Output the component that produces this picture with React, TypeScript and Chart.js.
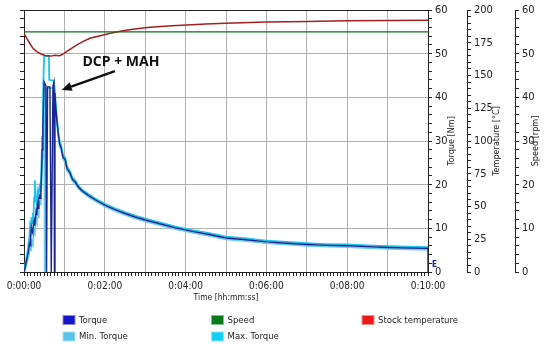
import React, { useEffect, useRef } from 'react';
import { Chart, registerables } from 'chart.js';

Chart.register(...registerables);

const FONT = '"DejaVu Sans Condensed", "DejaVu Sans", sans-serif';

// time [s], value
const torquePoints: [number, number][] = [
  [0, 0], [2, 1.2], [4, 2.8], [5, 3.5], [7, 5], [8, 6.5], [9, 6], [10, 8.5], [11, 10.2], [12, 9.4],
  [13, 9], [14, 11], [15, 11.8], [16, 10.6], [17, 12.4], [18, 14], [19, 13], [20, 15.4], [21, 14.6],
  [22, 16.8], [23, 17.4], [24, 16.9], [25, 18.3], [26, 22], [27, 28], [28, 33], [30, 43.5], [32.5, 42.6],
  [33.5, 0], [35, 42.4], [38.5, 42.4], [40.5, 0], [43, 42.6], [44.5, 43.5], [45.2, 0], [46, 41],
  [47, 38], [49, 34.5], [51, 31.5], [53, 29.2], [55, 28.6], [58, 26.2], [61, 25.8], [64, 23.6], [68, 22.8],
  [72, 21.2], [76, 20.6], [81, 19.4], [87, 18.5], [95, 17.6], [105, 16.6], [120, 15.3], [135, 14.3],
  [150, 13.4], [165, 12.6], [180, 11.9], [200, 11.1], [225, 10.1], [250, 9.3], [275, 8.6], [300, 7.8],
  [330, 7.4], [360, 6.9], [390, 6.6], [420, 6.3], [450, 6.1], [480, 6.0], [510, 5.8], [540, 5.6],
  [570, 5.5], [600, 5.4], [600, 0],
];

const maxTorquePoints: [number, number][] = [
  [0, 0], [2, 1.8], [4, 3.5], [6, 5.5], [8, 8], [9, 10.5], [10, 9.8], [11, 12.5], [12, 11.2], [13, 13.5],
  [14, 12.4], [15, 17], [16, 21], [17, 16], [18, 17.5], [19, 15.2], [20, 18], [21, 17], [22, 18.8],
  [23, 19.5], [24, 18.5], [25, 20], [26, 25], [27, 31], [28, 38], [29, 45], [30, 49.5], [37, 49.5],
  [37.5, 44], [44, 43.8], [46, 41.5], [47, 38.5], [49, 35], [51, 32], [53, 29.8], [55, 29.1], [58, 26.7],
  [61, 26.3], [64, 24.1], [68, 23.2], [72, 21.6], [76, 21], [81, 19.7], [87, 18.8], [95, 17.9], [105, 16.9],
  [120, 15.6], [135, 14.6], [150, 13.7], [165, 12.9], [180, 12.2], [200, 11.4], [225, 10.4], [250, 9.6],
  [275, 8.9], [300, 8.1], [330, 7.7], [360, 7.2], [390, 6.9], [420, 6.6], [450, 6.4], [480, 6.3], [510, 6.1],
  [540, 5.9], [570, 5.8], [600, 5.7],
];

const minTorquePoints: [number, number][] = [
  [0, 0], [2, 0.8], [4, 2], [6, 3.2], [8, 4.5], [9, 5.2], [10, 6], [11, 5.5], [12, 7.5], [13, 5.8],
  [14, 8.5], [15, 9.5], [16, 9], [17, 10.8], [18, 12], [19, 11.5], [20, 13.2], [21, 12.5], [22, 15],
  [23, 15.8], [24, 15.5], [25, 17], [26, 20], [27, 26], [28, 31], [29, 37], [30, 42], [30.8, 0], [31.5, 0],
  [32.2, 42], [44, 42.2], [45.5, 40.5], [47, 37.5], [49, 34], [51, 31], [53, 28.7], [55, 28.1],
  [58, 25.8], [61, 25.3], [64, 23.1], [68, 22.4], [72, 20.8], [76, 20.2], [81, 19.1], [87, 18.2], [95, 17.3],
  [105, 16.3], [120, 15.0], [135, 14.0], [150, 13.1], [165, 12.3], [180, 11.6], [200, 10.8], [225, 9.8],
  [250, 9.0], [275, 8.3], [300, 7.5], [330, 7.1], [360, 6.6], [390, 6.3], [420, 6.0], [450, 5.8], [480, 5.7],
  [510, 5.5], [540, 5.3], [570, 5.2], [600, 5.1],
];

const temperaturePoints: [number, number][] = [
  [0, 182], [4, 178.5], [8, 175], [13, 171], [19, 168.2], [26, 166.2], [33, 165], [40, 164.8], [46, 165.4],
  [52, 165], [56, 165.8], [61, 167.5], [70, 170.5], [78, 173.2], [88, 176], [98, 178.4], [113, 180.4],
  [128, 182.2], [145, 184], [162, 185.3], [180, 186.4], [197, 187.3], [220, 188], [242, 188.6],
  [270, 189.3], [300, 189.9], [360, 190.8], [420, 191.3], [480, 191.7], [540, 192], [600, 192.2],
];

const speedPoints: [number, number][] = [[0, 55], [600, 55]];

const xLabelStep = 120;
const torqueRange = [0, 60];
const temperatureRange = [0, 200];
const speedRange = [0, 60];

const legendItems = [
  { label: 'Torque', color: '#1414c8', col: 0, row: 0 },
  { label: 'Min. Torque', color: '#58c4ea', col: 0, row: 1 },
  { label: 'Speed', color: '#0b7a1c', col: 1, row: 0 },
  { label: 'Max. Torque', color: '#12d0f6', col: 1, row: 1 },
  { label: 'Stock temperature', color: '#f01818', col: 2, row: 0 },
];

const annotationText = 'DCP + MAH';

const toXY = (pts: [number, number][]) => pts.map(([x, y]) => ({ x, y }));

const fmtTime = (s: number) => {
  const h = Math.floor(s / 3600);
  const m = Math.floor((s % 3600) / 60);
  const sec = Math.round(s % 60);
  return `${h}:${String(m).padStart(2, '0')}:${String(sec).padStart(2, '0')}`;
};

const GRID = '#b0b0b0';
const FRAME = '#222222';
const CLEAR = 'rgba(0,0,0,0)';

const overlayPlugin = {
  id: 'overlay',
  afterDraw(chart: any) {
    const ctx = chart.ctx;
    const xs = chart.scales.x;
    const y = chart.scales.y;
    const area = chart.chartArea;
    const midY = (area.top + area.bottom) / 2;

    // rotated axis titles
    const titles = [
      { id: 'y', text: 'Torque [Nm]', off: 15 },
      { id: 'yT', text: 'Temperature [°C]', off: 18 },
      { id: 'yS', text: 'Speed [rpm]', off: 14 },
    ];
    ctx.save();
    ctx.fillStyle = FRAME;
    ctx.font = `9px ${FONT}`;
    ctx.textAlign = 'center';
    ctx.textBaseline = 'middle';
    for (const t of titles) {
      const sc = chart.scales[t.id];
      ctx.save();
      ctx.translate(sc.right - t.off, midY);
      ctx.rotate(-Math.PI / 2);
      ctx.fillText(t.text, 0, 0);
      ctx.restore();
    }
    ctx.restore();

    // annotation
    ctx.save();
    ctx.fillStyle = '#111';
    ctx.font = `bold 14px "Open Sans", ${FONT}`;
    ctx.textAlign = 'center';
    ctx.textBaseline = 'middle';
    ctx.fillText(annotationText, xs.getPixelForValue(144), y.getPixelForValue(48.1));
    const x1 = xs.getPixelForValue(135), y1 = y.getPixelForValue(46);
    const x2 = xs.getPixelForValue(56), y2 = y.getPixelForValue(41.7);
    const ang = Math.atan2(y2 - y1, x2 - x1);
    const headLen = 10, headW = 4.5;
    const bx = x2 - headLen * Math.cos(ang), by = y2 - headLen * Math.sin(ang);
    ctx.strokeStyle = '#111';
    ctx.lineWidth = 2.5;
    ctx.beginPath();
    ctx.moveTo(x1, y1);
    ctx.lineTo(bx, by);
    ctx.stroke();
    ctx.beginPath();
    ctx.moveTo(x2, y2);
    ctx.lineTo(bx + headW * Math.sin(ang), by - headW * Math.cos(ang));
    ctx.lineTo(bx - headW * Math.sin(ang), by + headW * Math.cos(ang));
    ctx.closePath();
    ctx.fill();

    // end marker
    ctx.fillStyle = '#1a2590';
    ctx.font = `bold 8px ${FONT}`;
    ctx.textAlign = 'left';
    ctx.fillText('E', xs.getPixelForValue(600) + 4, y.getPixelForValue(1.6));
    ctx.restore();

    // legend
    ctx.save();
    const colX = [63.5, 212, 362.5];
    const rowY = [316, 332.5];
    ctx.font = `9.5px ${FONT}`;
    ctx.textAlign = 'left';
    ctx.textBaseline = 'middle';
    for (const it of legendItems) {
      const lx = colX[it.col], ly = rowY[it.row];
      ctx.fillStyle = it.color;
      ctx.globalAlpha = 0.5;
      ctx.fillRect(lx - 1, ly - 1, 13, 10);
      ctx.globalAlpha = 1;
      ctx.fillRect(lx, ly, 11, 8);
      ctx.fillStyle = FRAME;
      ctx.fillText(it.label, lx + 15.5, ly + 4.5);
    }
    ctx.restore();
  },
};

export default function App() {
  const ref = useRef<HTMLCanvasElement | null>(null);

  useEffect(() => {
    document.body.style.margin = '0';
    const canvas = ref.current;
    if (!canvas) return;

    const xFont = { family: FONT, size: 10 };
    const yFont = { family: FONT, size: 11 };

    const chart = new Chart(canvas, {
      type: 'line',
      data: {
        datasets: [
          {
            label: 'Torque',
            data: toXY(torquePoints),
            borderColor: '#1a2590',
            backgroundColor: '#1414c8',
            borderWidth: 1.4,
            pointRadius: 0,
            yAxisID: 'y',
            order: 0,
          },
          {
            label: 'Min. Torque',
            data: toXY(minTorquePoints),
            borderColor: '#6acde9',
            backgroundColor: '#58c4ea',
            borderWidth: 1.8,
            pointRadius: 0,
            yAxisID: 'y',
            order: 2,
          },
          {
            label: 'Speed',
            data: toXY(speedPoints),
            borderColor: '#0b6e1e',
            backgroundColor: '#0b7a1c',
            borderWidth: 1.3,
            pointRadius: 0,
            yAxisID: 'yS',
            order: 0,
          },
          {
            label: 'Max. Torque',
            data: toXY(maxTorquePoints),
            borderColor: '#19c4ee',
            backgroundColor: '#12d0f6',
            borderWidth: 1.8,
            pointRadius: 0,
            yAxisID: 'y',
            order: 1,
          },
          {
            label: 'Stock temperature',
            data: toXY(temperaturePoints),
            borderColor: '#a32020',
            backgroundColor: '#f01818',
            borderWidth: 1.5,
            pointRadius: 0,
            yAxisID: 'yT',
            order: 0,
          },
        ],
      },
      options: {
        animation: false,
        responsive: false,
        maintainAspectRatio: false,
        devicePixelRatio: 1,
        layout: { padding: { top: 10, bottom: 44, left: 0, right: 0 } },
        plugins: {
          legend: { display: false },
          tooltip: { enabled: false },
        },
        elements: { line: { tension: 0 } },
        scales: {
          x: {
            type: 'linear',
            position: 'bottom',
            min: 0,
            max: 600,
            afterFit: (s: any) => { s.height = 32; },
            ticks: {
              stepSize: 5,
              autoSkip: false,
              maxRotation: 0,
              padding: 4,
              color: FRAME,
              font: xFont,
              callback: (v: any) => (Number(v) % xLabelStep === 0 ? fmtTime(Number(v)) : ''),
            },
            grid: {
              color: (c: any) => {
                const v = c.tick ? c.tick.value : 0;
                if (v === 600) return FRAME;
                return v % 60 === 0 ? GRID : CLEAR;
              },
              tickColor: FRAME,
              tickLength: 4,
              lineWidth: 1,
            },
            border: { display: true, color: FRAME },
            title: {
              display: true,
              text: 'Time [hh:mm:ss]',
              color: FRAME,
              font: { family: FONT, size: 8.5 },
              padding: { top: 0, bottom: 1 },
            },
          },
          yL: {
            type: 'linear',
            position: 'left',
            min: torqueRange[0],
            max: torqueRange[1],
            afterFit: (s: any) => { s.width = 24; },
            ticks: { stepSize: 2, display: false, autoSkip: false },
            grid: { drawOnChartArea: false, tickColor: FRAME, tickLength: 4, color: FRAME },
            border: { display: true, color: FRAME },
          },
          y: {
            type: 'linear',
            position: 'right',
            min: torqueRange[0],
            max: torqueRange[1],
            afterFit: (s: any) => { s.width = 39; },
            ticks: {
              stepSize: 2,
              autoSkip: false,
              padding: 3,
              color: FRAME,
              font: yFont,
              callback: (v: any) => (Number(v) % 10 === 0 ? String(v) : ''),
            },
            grid: {
              color: (c: any) => {
                const v = c.tick ? c.tick.value : 0;
                if (v === 60) return FRAME;
                return v % 10 === 0 && v > 0 ? GRID : CLEAR;
              },
              tickColor: FRAME,
              tickLength: 4,
            },
            border: { display: true, color: FRAME },
          },
          yT: {
            type: 'linear',
            position: 'right',
            min: temperatureRange[0],
            max: temperatureRange[1],
            afterFit: (s: any) => { s.width = 48; },
            ticks: {
              stepSize: 5,
              autoSkip: false,
              padding: 3,
              color: FRAME,
              font: yFont,
              callback: (v: any) => (Number(v) % 25 === 0 ? String(v) : ''),
            },
            grid: { drawOnChartArea: false, tickColor: FRAME, tickLength: 4, color: FRAME },
            border: { display: true, color: FRAME },
          },
          yS: {
            type: 'linear',
            position: 'right',
            min: speedRange[0],
            max: speedRange[1],
            afterFit: (s: any) => { s.width = 35; },
            ticks: {
              stepSize: 2,
              autoSkip: false,
              padding: 3,
              color: FRAME,
              font: yFont,
              callback: (v: any) => (Number(v) % 10 === 0 ? String(v) : ''),
            },
            grid: { drawOnChartArea: false, tickColor: FRAME, tickLength: 4, color: FRAME },
            border: { display: true, color: FRAME },
          },
        },
      } as any,
      plugins: [overlayPlugin],
    });

    return () => chart.destroy();
  }, []);

  return (
    <div style={{ width: 550, height: 348, background: '#fff' }}>
      <canvas ref={ref} width={550} height={348} style={{ display: 'block' }} />
    </div>
  );
}
